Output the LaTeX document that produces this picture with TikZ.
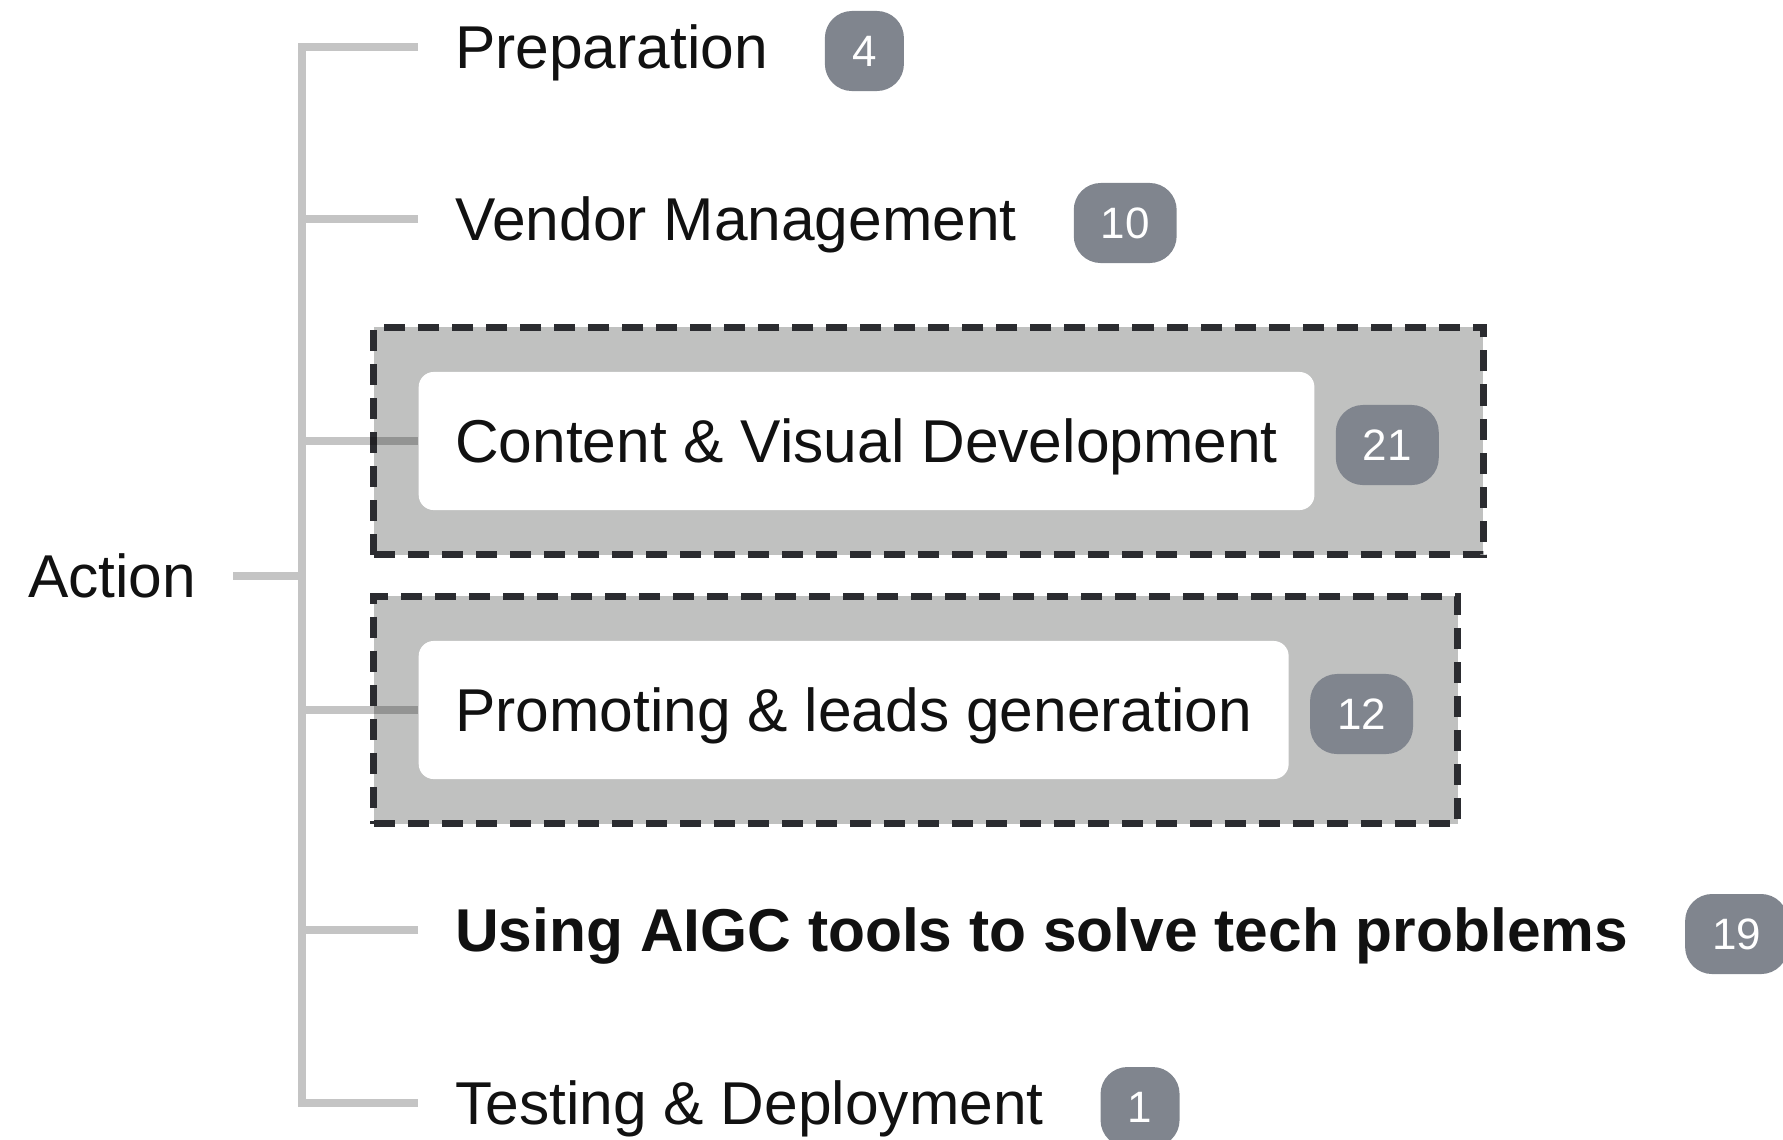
\documentclass[tikz,border=0pt]{standalone}
\usepackage{fontspec}
\setmainfont{Liberation Sans}
\usetikzlibrary{positioning,fit,backgrounds}
\definecolor{boxgray}{RGB}{192,193,192}
\definecolor{dashgray}{RGB}{43,44,48}
\definecolor{badgegray}{RGB}{128,133,142}
\definecolor{txtblack}{RGB}{17,17,17}

\begin{document}
\begin{tikzpicture}[line join=miter,x=0.01cm,y=-0.01cm,
	branchline/.style={draw=black,draw opacity=0.23,line width=0.085cm},
	leaf/.style={anchor=west,inner xsep=0.365cm,inner ysep=0pt,minimum height=1.38cm,text height=12.3pt,text depth=0pt,rounded corners=0.15cm,text=txtblack,font=\fontsize{17.2pt}{20pt}\selectfont},
	leafbox/.style={leaf,fill=white},
	badge/.style={fill=badgegray,text=white,rounded corners=0.27cm,minimum height=0.8cm,minimum width=0.79cm,inner xsep=0.27cm,inner ysep=0pt,text height=8.6pt,text depth=0pt,yshift=-0.04cm,font=\fontsize{12.5pt}{14pt}\selectfont},
	groupbox/.style={fill=boxgray,draw=dashgray,line width=0.07cm,dash pattern=on 0.21cm off 0.13cm,inner sep=0.44cm}]
	\useasboundingbox (0,0) rectangle (1783,1139);
	\clip (0,0) rectangle (1783,1139);
	\coordinate (trunk) at (302,0);
	\node[leaf,anchor=east,inner xsep=0.36cm] (act) at (233,576) {Action};
	\node[leaf] (prep) at (418,47) {Preparation};
	\node[leaf] (vend) at (418,219) {Vendor Management};
	\node[leafbox] (cvd) at (418,441) {Content \& Visual Development};
	\node[leafbox] (plg) at (418,710) {Promoting \& leads generation};
	\node[leaf,font=\fontsize{17.2pt}{20pt}\selectfont\bfseries] (aigc) at (418,930) {Using AIGC tools to solve tech problems};
	\node[leaf] (tst) at (418,1103) {Testing \& Deployment};
	\node[badge,right=0.19cm of prep] (prepN) {4};
	\node[badge,right=0.19cm of vend] (vendN) {10};
	\node[badge,right=0.2cm of cvd] (cvdN) {21};
	\node[badge,right=0.2cm of plg] (plgN) {12};
	\node[badge,right=0.19cm of aigc] (aigcN) {19};
	\node[badge,right=0.19cm of tst] (tstN) {1};
	\begin{scope}[on background layer]
		\node[groupbox,fit=(cvd)(cvdN)] (cvdgrp) {};
		\node[groupbox,fit=(plg)(plgN)] (plggrp) {};
	\end{scope}
	\draw[branchline] (prep.west) -| (tst.west -| trunk) -- (tst.west)
		(vend.west) -- (vend.west -| trunk)
		(cvd.west) -- (cvd.west -| trunk)
		(plg.west) -- (plg.west -| trunk)
		(aigc.west) -- (aigc.west -| trunk)
		(act.east) -- (act.east -| trunk);
\end{tikzpicture}
\end{document}
